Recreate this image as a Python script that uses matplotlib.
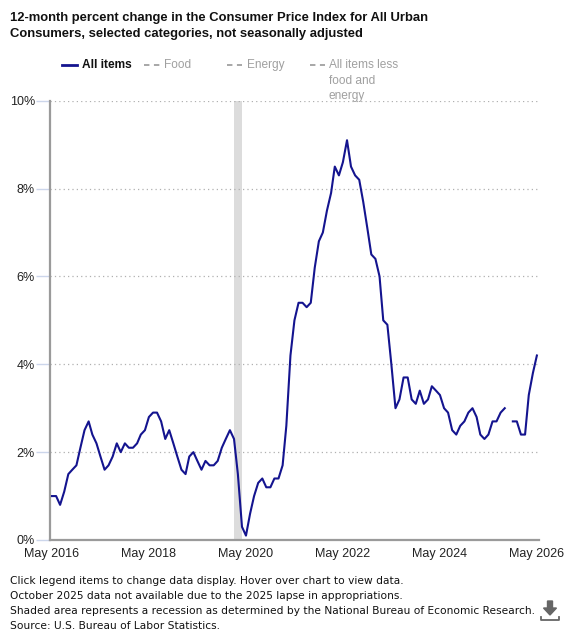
import matplotlib
matplotlib.use("Agg")
import matplotlib.pyplot as plt
from matplotlib.lines import Line2D
from matplotlib.patches import Polygon
import numpy as np
import pandas as pd

# ---------------- data ----------------
start_month = "2016-05-01"
all_items = [
    1.0, 1.0, 0.8, 1.1, 1.5, 1.6, 1.7, 2.1,                      # 2016 May-Dec
    2.5, 2.7, 2.4, 2.2, 1.9, 1.6, 1.7, 1.9, 2.2, 2.0, 2.2, 2.1,  # 2017
    2.1, 2.2, 2.4, 2.5, 2.8, 2.9, 2.9, 2.7, 2.3, 2.5, 2.2, 1.9,  # 2018
    1.6, 1.5, 1.9, 2.0, 1.8, 1.6, 1.8, 1.7, 1.7, 1.8, 2.1, 2.3,  # 2019
    2.5, 2.3, 1.5, 0.3, 0.1, 0.6, 1.0, 1.3, 1.4, 1.2, 1.2, 1.4,  # 2020
    1.4, 1.7, 2.6, 4.2, 5.0, 5.4, 5.4, 5.3, 5.4, 6.2, 6.8, 7.0,  # 2021
    7.5, 7.9, 8.5, 8.3, 8.6, 9.1, 8.5, 8.3, 8.2, 7.7, 7.1, 6.5,  # 2022
    6.4, 6.0, 5.0, 4.9, 4.0, 3.0, 3.2, 3.7, 3.7, 3.2, 3.1, 3.4,  # 2023
    3.1, 3.2, 3.5, 3.4, 3.3, 3.0, 2.9, 2.5, 2.4, 2.6, 2.7, 2.9,  # 2024
    3.0, 2.8, 2.4, 2.3, 2.4, 2.7, 2.7, 2.9, 3.0, np.nan, 2.7, 2.7,  # 2025 (Oct missing)
    2.4, 2.4, 3.3, 3.8, 4.2,                                     # 2026 Jan-May
]
dates = pd.date_range(start_month, periods=len(all_items), freq="MS")

recession_start = "2020-02-01"
recession_end = "2020-04-01"

x_tick_dates = ["2016-05-01", "2018-05-01", "2020-05-01", "2022-05-01", "2024-05-01", "2026-05-01"]
x_tick_labels = ["May 2016", "May 2018", "May 2020", "May 2022", "May 2024", "May 2026"]
y_ticks = [0, 2, 4, 6, 8, 10]
y_tick_labels = ["0%", "2%", "4%", "6%", "8%", "10%"]

legend_labels = ["All items", "Food", "Energy", "All items less\nfood and\nenergy"]

title = ("12-month percent change in the Consumer Price Index for All Urban\n"
         "Consumers, selected categories, not seasonally adjusted")
notes = [
    "Click legend items to change data display. Hover over chart to view data.",
    "October 2025 data not available due to the 2025 lapse in appropriations.",
    "Shaded area represents a recession as determined by the National Bureau of Economic Research.",
    "Source: U.S. Bureau of Labor Statistics.",
]

# ---------------- figure ----------------
W, H = 579, 630
fig = plt.figure(figsize=(W / 100, H / 100), dpi=100)
plt.rcParams["font.family"] = ["Liberation Sans", "DejaVu Sans"]

def fx(px):
    return px / W

def fy(py):
    return 1 - py / H

ax_left, ax_right, ax_top, ax_bottom = 50, 539, 100.7, 540
ax = fig.add_axes([fx(ax_left), fy(ax_bottom), (ax_right - ax_left) / W, (ax_bottom - ax_top) / H])

line_color = "#14148f"
ax.axvspan(pd.Timestamp(recession_start), pd.Timestamp(recession_end), color="#dcdcdc", lw=0, zorder=1)
ax.plot(dates, all_items, color=line_color, lw=1.5, zorder=3, solid_joinstyle="round")

ax.set_ylim(0, 10)
ax.set_xlim(pd.Timestamp("2016-04-16"), pd.Timestamp("2026-05-17"))
ax.set_yticks(y_ticks)
ax.set_yticklabels(y_tick_labels)
ax.set_xticks([pd.Timestamp(d) for d in x_tick_dates])
ax.set_xticklabels(x_tick_labels)

ax.grid(axis="y", linestyle=(0, (1, 2.5)), color="#b0b0b0", lw=0.9, zorder=0)
ax.grid(axis="x", visible=False)
for s in ["top", "right"]:
    ax.spines[s].set_visible(False)
for s in ["left", "bottom"]:
    ax.spines[s].set_color("#9a9a9a")
    ax.spines[s].set_linewidth(1.6)
ax.tick_params(axis="y", length=10, width=1, color="#ccd6eb", labelsize=9, labelcolor="#222222", pad=0.8)
ax.tick_params(axis="x", length=0, labelsize=9, labelcolor="#222222", pad=6)

# ---------------- title ----------------
fig.text(fx(10), fy(12), title, fontsize=9.4, fontweight="bold", color="#111111",
         va="top", ha="left", linespacing=1.45)

# ---------------- legend ----------------
legend_y = 65
items = [
    (62, 77, 82, legend_labels[0], line_color, "-", "bold", "#111111"),
    (144, 160, 164, legend_labels[1], "#a0a0a0", "--", "normal", "#a0a0a0"),
    (227, 242, 247, legend_labels[2], "#a0a0a0", "--", "normal", "#a0a0a0"),
    (310, 325, 329, legend_labels[3], "#a0a0a0", "--", "normal", "#a0a0a0"),
]
for x0, x1, tx, lab, col, ls, fw, tc in items:
    fig.add_artist(Line2D([fx(x0), fx(x1)], [fy(legend_y), fy(legend_y)], color=col,
                          lw=2 if ls == "-" else 1.3, linestyle=ls if ls == "-" else (0, (3, 2.5)),
                          transform=fig.transFigure))
    fig.text(fx(tx), fy(legend_y - 6), lab, fontsize=8.6, fontweight=fw, color=tc,
             va="top", ha="left", linespacing=1.4)

# ---------------- notes ----------------
for i, n in enumerate(notes):
    fig.text(fx(10), fy(580.5 + i * 15.2), n, fontsize=7.7, color="#111111",
             va="center", ha="left", family=["DejaVu Sans"])

# ---------------- download icon ----------------
icon_col = "#666666"
cx = 550
arrow = [(cx - 2.5, 601), (cx + 2.5, 601), (cx + 2.5, 608), (cx + 6.5, 608), (cx, 615),
         (cx - 6.5, 608), (cx - 2.5, 608)]
fig.add_artist(Polygon([(fx(a), fy(b)) for a, b in arrow], closed=True, color=icon_col,
                       transform=fig.transFigure))
fig.add_artist(Line2D([fx(cx - 9), fx(cx - 9), fx(cx + 9), fx(cx + 9)],
                      [fy(617), fy(620), fy(620), fy(617)], color=icon_col, lw=1.3,
                      transform=fig.transFigure))

fig.savefig("out.png", dpi=100)
